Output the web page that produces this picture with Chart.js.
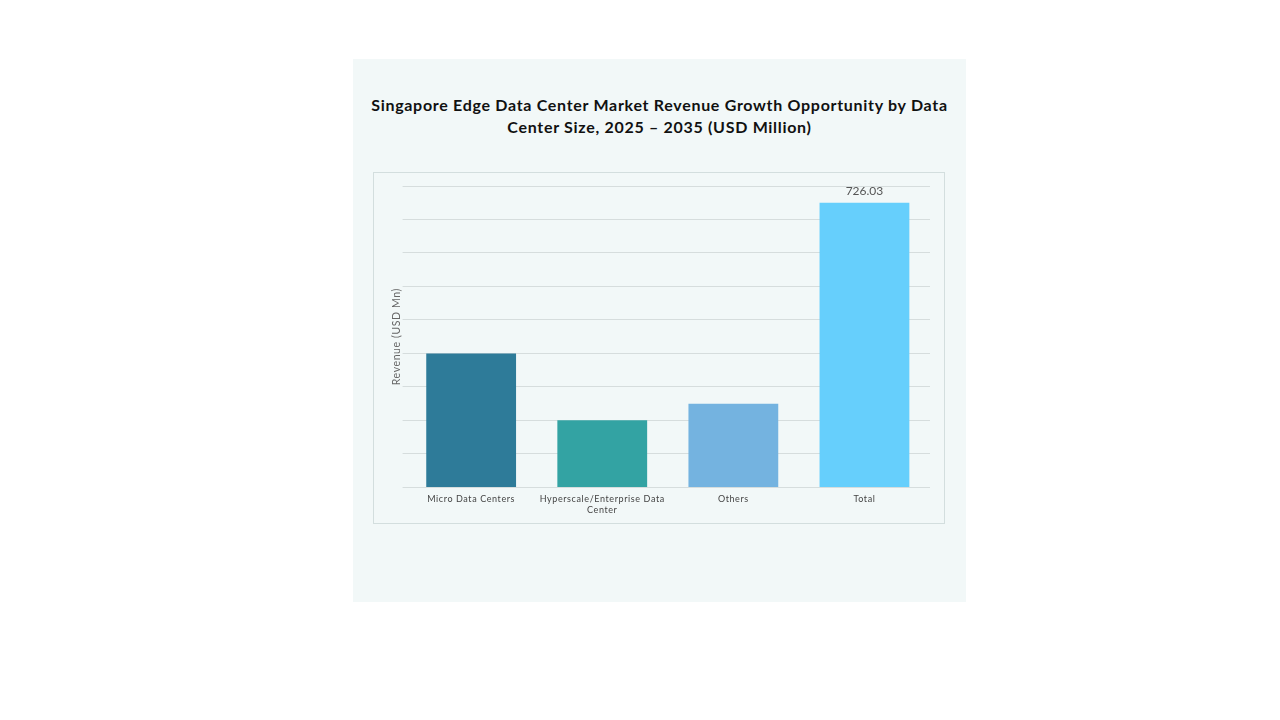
<!DOCTYPE html>
<html>
<head>
<meta charset="utf-8">
<script src="https://cdn.jsdelivr.net/npm/chart.js@4.4.1/dist/chart.umd.min.js"></script>
<style>
  html, body { margin: 0; padding: 0; background: #ffffff; }
  body { width: 1280px; height: 720px; position: relative; font-family: "Lato", "Noto Sans", sans-serif; }
  #panel {
    position: absolute; left: 353px; top: 59px; width: 613px; height: 543px;
    background: #f2f8f8;
  }
  #title {
    position: absolute; left: 0; top: 35px; width: 613px;
    text-align: center; font-weight: bold; font-size: 16px; line-height: 22px; color: #111;
    letter-spacing: 0.7px;
  }
  #box {
    position: absolute; left: 20px; top: 113px; width: 570px; height: 350px;
    border: 1px solid #d3dede;
  }
  #box canvas { display: block; }
</style>
</head>
<body>
<div id="panel">
  <div id="title">Singapore Edge Data Center Market Revenue Growth Opportunity by Data<br>Center Size, 2025 – 2035 (USD Million)</div>
  <div id="box"><canvas id="myBarChart" width="570" height="350"></canvas></div>
</div>
<script>
const categorias = ['Micro Data Centers', 'Hyperscale/Enterprise Data Center', 'Others', 'Total'];
const etiquetas = [['Micro Data Centers'], ['Hyperscale/Enterprise Data', 'Center'], ['Others'], ['Total']];
const valores = [341.5, 171.2, 213.33, 726.03];
const colores = ['#2e7b99', '#33a3a3', '#74b3e0', '#66cffc'];
const pasoY = 85.42;
const maxY = 768.78;

// texto un poco espaciado en los ejes, como en el original
const espaciado = {
  id: 'espaciado',
  beforeDraw(chart) { chart.ctx.letterSpacing = '0.6px'; },
  beforeDatasetsDraw(chart) { chart.ctx.letterSpacing = '0px'; }
};

// etiqueta solo sobre la barra del total
const etiquetaTotal = {
  id: 'etiquetaTotal',
  afterDatasetsDraw(chart) {
    const ctx = chart.ctx;
    const meta = chart.getDatasetMeta(0);
    const i = valores.length - 1;
    const bar = meta.data[i];
    ctx.save();
    ctx.font = '12px Lato, "Noto Sans", sans-serif';
    ctx.fillStyle = '#555';
    ctx.textAlign = 'center';
    ctx.textBaseline = 'bottom';
    ctx.fillText(valores[i].toFixed(2), bar.x, bar.y - 6);
    ctx.restore();
  }
};

var ctx = document.getElementById('myBarChart').getContext('2d');
const myBarChart = new Chart(ctx, {
  type: 'bar',
  data: {
    labels: etiquetas,
    datasets: [{
      label: 'Revenue',
      data: valores,
      backgroundColor: colores,
      categoryPercentage: 1,
      barPercentage: 0.685
    }]
  },
  options: {
    responsive: false,
    animation: false,
    layout: { padding: { left: 8, right: 14, top: 13, bottom: 2 } },
    scales: {
      x: {
        grid: { display: false, drawTicks: false },
        border: { display: false },
        ticks: {
          padding: 6,
          color: '#444',
          font: { family: 'Lato, "Noto Sans", sans-serif', size: 9 }
        }
      },
      y: {
        min: 0,
        max: maxY,
        grid: { color: '#d6dddd', tickLength: 3 },
        border: { display: false },
        ticks: { display: false, stepSize: pasoY },
        title: {
          display: true,
          text: 'Revenue (USD Mn)',
          color: '#666',
          padding: { top: 8, bottom: 0 },
          font: { family: 'Lato, "Noto Sans", sans-serif', size: 10.5 }
        }
      }
    },
    plugins: {
      legend: { display: false },
      tooltip: { enabled: false }
    }
  },
  plugins: [espaciado, etiquetaTotal]
});
</script>
</body>
</html>
